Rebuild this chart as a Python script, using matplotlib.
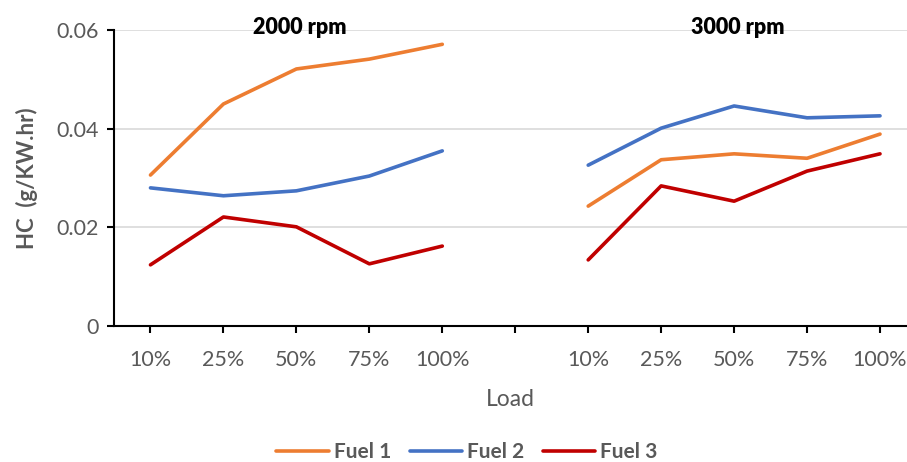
import numpy as np
import matplotlib
matplotlib.use('Agg')
import matplotlib.pyplot as plt

plt.rcParams['font.family'] = ['Lato', 'DejaVu Sans']

# Categories: 5 loads at 2000 rpm, a blank spacer, 5 loads at 3000 rpm
tick_labels = ['10%', '25%', '50%', '75%', '100%', '',
               '10%', '25%', '50%', '75%', '100%']

fuel1 = [0.0306, 0.0450, 0.0521, 0.0541, 0.0571, np.nan,
         0.0243, 0.0337, 0.0349, 0.0340, 0.0389]
fuel2 = [0.0280, 0.0264, 0.0274, 0.0304, 0.0355, np.nan,
         0.0326, 0.0401, 0.0446, 0.0422, 0.0426]
fuel3 = [0.0124, 0.0221, 0.0201, 0.0126, 0.0162, np.nan,
         0.0134, 0.0284, 0.0253, 0.0314, 0.0349]

series = [('Fuel 1', fuel1, '#ED7D31'),
          ('Fuel 2', fuel2, '#4472C4'),
          ('Fuel 3', fuel3, '#C00000')]

fig = plt.figure(figsize=(9.07, 4.62), dpi=100)
ax = fig.add_axes([114 / 907, 136 / 462, 1 - 114 / 907, (326 - 30) / 462])

x = np.arange(len(tick_labels))
for name, vals, col in series:
    ax.plot(x, vals, color=col, lw=2.6, label=name, solid_capstyle='round')

ax.set_xlim(-0.5, 10 + 27 / 73)
ax.set_ylim(0, 0.06)
ax.set_yticks([0, 0.02, 0.04, 0.06])
ax.set_yticklabels(['0', '0.02', '0.04', '0.06'])
ax.set_xticks(x)
ax.set_xticklabels(tick_labels)

ax.grid(axis='y', color='#D9D9D9', lw=1.2)
ax.set_axisbelow(True)
for s in ['top', 'right']:
    ax.spines[s].set_visible(False)
ax.spines['left'].set_linewidth(1.5)
ax.spines['bottom'].set_linewidth(1.5)
ax.tick_params(axis='both', direction='out', length=5, width=1.5,
               labelsize=15.5, labelcolor='#595959', pad=6)
ax.tick_params(axis='x', pad=12)

ax.set_ylabel('HC  (g/KW.hr)', fontsize=16, fontweight='bold', color='#595959', labelpad=13)
ax.set_xlabel('Load', fontsize=16.5, color='#595959', labelpad=14)

ax.text(2.05, 0.0605, '2000 rpm', fontsize=15.5, fontweight='heavy', ha='center', va='center')
ax.text(8.05, 0.0605, '3000 rpm', fontsize=15.5, fontweight='heavy', ha='center', va='center')

leg = fig.legend(loc='center', bbox_to_anchor=(0.515, 0.022), ncol=3, frameon=False,
                 fontsize=15, handlelength=2.5, columnspacing=0.9, handletextpad=0.25)
for t in leg.get_texts():
    t.set_fontweight('bold')
    t.set_color('#595959')

fig.savefig('out.png', dpi=100)
